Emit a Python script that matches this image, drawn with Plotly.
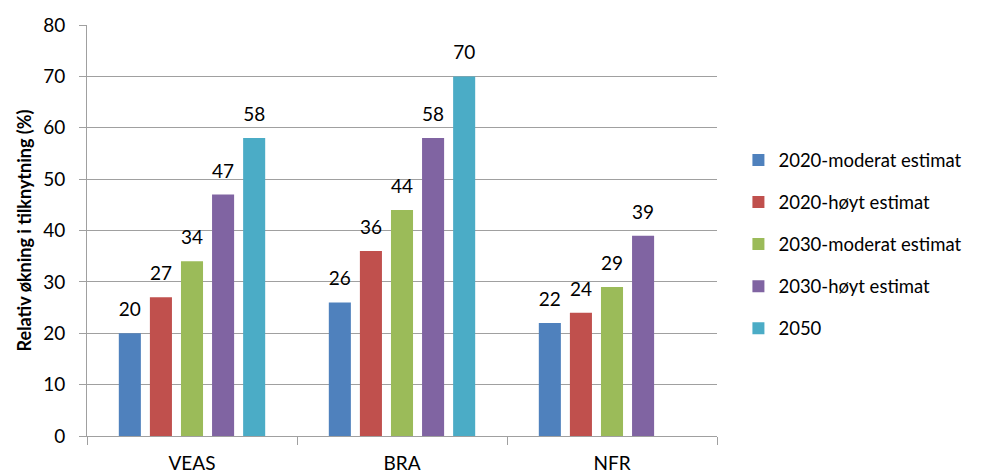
import plotly.graph_objects as go

categories = ["VEAS", "BRA", "NFR"]
series_names = ["2020-moderat estimat", "2020-høyt estimat", "2030-moderat estimat",
                "2030-høyt estimat", "2050"]
v2020_mod = [20, 26, 22]
v2020_hoy = [27, 36, 24]
v2030_mod = [34, 44, 29]
v2030_hoy = [47, 58, 39]
v2050 = [58, 70, None]
colors = ["#4F81BD", "#C0504D", "#9BBB59", "#8064A2", "#4BACC6"]
y_ticks = [0, 10, 20, 30, 40, 50, 60, 70, 80]

series_values = [v2020_mod, v2020_hoy, v2030_mod, v2030_hoy, v2050]

FONT = "Lato, Open Sans, sans-serif"

fig = go.Figure()
for i, (name, vals, col) in enumerate(zip(series_names, series_values, colors)):
    fig.add_trace(go.Bar(
        x=categories, y=vals, name=name,
        marker=dict(color=col, line=dict(width=0)),
        offsetgroup=f"g{i}", legendgroup=f"g{i}",
        hoverinfo="skip",
    ))
for i, (name, vals) in enumerate(zip(series_names, series_values)):
    fig.add_trace(go.Scatter(
        x=categories, y=vals, mode="markers+text",
        text=[("" if v is None else str(v)) for v in vals],
        textposition="top center",
        marker=dict(size=18, opacity=0),
        textfont=dict(size=19, color="#000", family=FONT),
        offsetgroup=f"g{i}", showlegend=False, cliponaxis=False,
        hoverinfo="skip",
    ))

fig.update_layout(
    width=986, height=473,
    margin=dict(l=87, r=269, t=25, b=37),
    paper_bgcolor="white", plot_bgcolor="white",
    barmode="group", bargap=0.26, bargroupgap=0.29,
    scattermode="group", scattergap=0.26,
    font=dict(family=FONT, color="#000"),
    legend=dict(x=1.034, y=0.466, xanchor="left", yanchor="middle",
                font=dict(size=18.5, family=FONT), tracegroupgap=15,
                traceorder="grouped", itemwidth=30),
    showlegend=True,
)
fig.update_yaxes(range=[0, 80], tickvals=y_ticks, showgrid=True, gridcolor="#A0A0A0",
                 gridwidth=1, showline=True, linecolor="#A0A0A0", ticks="outside",
                 ticklen=7, tickcolor="#A0A0A0", tickfont=dict(size=19, family=FONT),
                 ticklabelstandoff=10, automargin=False,
                 title=dict(text="<b>Relativ økning i tilknytning (%)</b>",
                            font=dict(size=18, family=FONT), standoff=6),
                 zeroline=False)
fig.update_xaxes(showline=True, linecolor="#A0A0A0", ticks="outside", tickson="boundaries",
                 ticklen=8, tickcolor="#A0A0A0", tickfont=dict(size=19, family=FONT),
                 ticklabelstandoff=10, showgrid=False, automargin=False)

fig.write_html("out.html")
